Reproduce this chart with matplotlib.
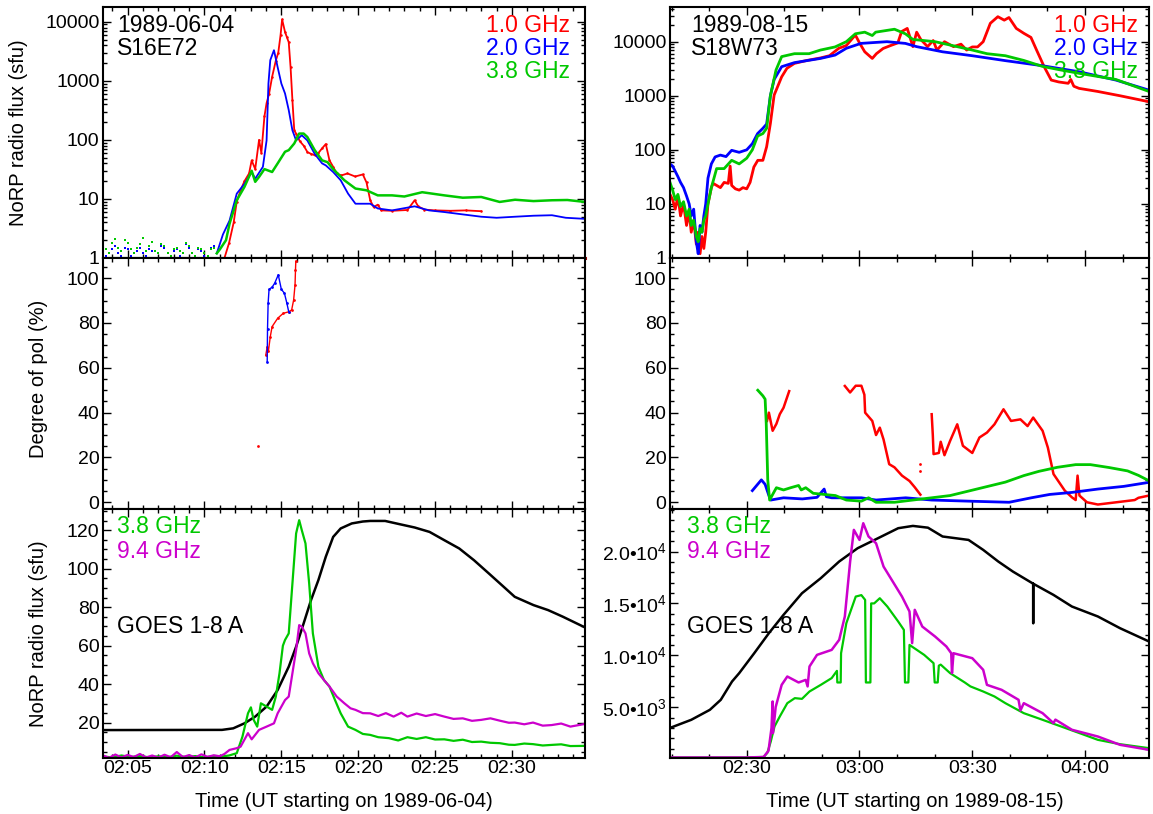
import numpy as np
import matplotlib
matplotlib.use('Agg')
import matplotlib.pyplot as plt
import matplotlib.ticker as mt

plt.rcParams['font.family'] = ['Liberation Sans', 'DejaVu Sans']
plt.rcParams['mathtext.fontset'] = 'custom'
plt.rcParams['mathtext.rm'] = 'Liberation Sans'
plt.rcParams['mathtext.it'] = 'Liberation Sans:italic'

RED = '#ff0000'
BLUE = '#0000ff'
GREEN = '#00c800'
MAGENTA = '#cc00cc'

# ---- event 1: 1989-06-04, time in minutes after 02:00 UT ----
flux_1ghz_a = [(11.3, 1.0), (11.6, 1.8), (11.9, 4), (12.1, 9), (12.35, 14), (12.6, 20), (12.9, 27),
               (13.07, 45), (13.3, 32), (13.55, 100), (13.7, 60), (13.9, 250), (14.04, 420), (14.2, 600),
               (14.4, 1170), (14.64, 2200), (14.8, 3000), (14.95, 6000), (15.05, 11000), (15.24, 6700),
               (15.36, 5500), (15.48, 4500), (15.6, 1700), (15.72, 470), (15.84, 145), (15.96, 128),
               (16.2, 95), (16.45, 80), (16.7, 62), (16.93, 58), (17.17, 55), (17.41, 60), (17.65, 72),
               (17.89, 85), (18.13, 45), (18.37, 35), (18.6, 27), (18.9, 25), (19.3, 27), (19.8, 24),
               (20.3, 26), (20.54, 19), (20.78, 9.5), (21.0, 7.3), (21.27, 8), (21.5, 6.4), (22.2, 6.3),
               (23.2, 6.5), (23.67, 9.5), (23.9, 7.5), (24.3, 6.6), (25.0, 6.4), (26.0, 6.3), (27.0, 6.4),
               (28.0, 6.2)]
# pre-flare noise dots (2.0 / 3.8 GHz)
quiet_2ghz_a = [(3.4, 1.3), (3.6, 1.1), (3.8, 1.0), (4.0, 1.4), (4.2, 1.6), (4.4, 1.2), (4.6, 1.1),
                (4.8, 1.5), (5.0, 1.4), (5.2, 1.1), (5.4, 1.0), (5.6, 1.3), (5.8, 1.5), (6.0, 1.2),
                (6.2, 1.1), (6.4, 1.4), (6.6, 1.3), (6.8, 1.0), (7.0, 1.0), (7.2, 1.6), (7.4, 1.5),
                (7.6, 1.2), (7.8, 1.1), (8.0, 1.3), (8.2, 1.4), (8.4, 1.1), (8.6, 1.0), (8.8, 1.7),
                (9.0, 1.5), (9.2, 1.2), (9.4, 1.1), (9.6, 1.4), (9.8, 1.3), (10.0, 1.1), (10.2, 1.0),
                (10.4, 1.5), (10.6, 1.6), (10.8, 1.2)]
quiet_38ghz_a = [(3.4, 1.6), (3.6, 1.4), (3.8, 1.2), (4.0, 1.8), (4.2, 2.1), (4.4, 1.5), (4.6, 1.3),
                 (4.8, 2.0), (5.0, 1.8), (5.2, 1.4), (5.4, 1.2), (5.6, 1.5), (5.8, 1.7), (6.0, 2.2),
                 (6.2, 1.3), (6.4, 1.6), (6.6, 1.9), (6.8, 1.3), (7.0, 1.2), (7.2, 1.7), (7.4, 1.6),
                 (7.6, 1.2), (7.8, 1.1), (8.0, 1.4), (8.2, 1.5), (8.4, 1.3), (8.6, 1.2), (8.8, 1.8),
                 (9.0, 1.6), (9.2, 1.2), (9.4, 1.1), (9.6, 1.5), (9.8, 1.4), (10.0, 1.2), (10.2, 1.1),
                 (10.4, 1.4), (10.6, 1.5), (10.8, 1.2)]
flux_2ghz_a = [(10.8, 1.2), (11.2, 2.5),
               (11.63, 4.3), (12.1, 12.3), (12.6, 18), (13.07, 28.6), (13.3, 22), (13.8, 35), (14.04, 98),
               (14.16, 900), (14.28, 2240), (14.52, 3300), (14.76, 1700), (15.0, 900), (15.24, 610),
               (15.48, 320), (15.72, 145), (15.96, 98), (16.33, 120), (16.69, 98), (17.17, 58),
               (17.65, 40), (17.89, 37), (18.37, 28.6), (18.86, 20.7), (19.34, 12.3), (19.82, 8.3),
               (20.78, 8.3), (21.27, 6.9), (22.2, 6.4), (23.67, 7.5), (24.6, 6.4), (25.6, 6.0),
               (26.5, 5.6), (28.0, 5.0), (29.0, 4.8), (30.2, 5.0), (31.4, 5.2), (32.6, 5.3), (33.5, 4.8),
               (34.75, 4.6)]
flux_38ghz_a = [(10.8, 1.2), (11.0, 1.4), (11.4, 2.0),
                (11.63, 3.8), (12.1, 9.5), (12.6, 16), (13.07, 30), (13.3, 19.5), (13.55, 23.6),
                (13.9, 32), (14.4, 28.6), (14.76, 40), (15.24, 63), (15.48, 67), (15.84, 87),
                (16.16, 128), (16.45, 128), (16.69, 112), (17.17, 67), (17.65, 45), (18.0, 42),
                (18.37, 32), (19.1, 20.7), (19.82, 15), (20.54, 14), (21.27, 11.5), (22.2, 11.5),
                (23.0, 11.0), (24.16, 13), (25.6, 11.5), (26.8, 10.5), (28.0, 10.8), (29.2, 8.9),
                (30.2, 9.7), (31.4, 9.2), (32.6, 9.5), (33.6, 9.6), (34.75, 8.9)]
floor_38ghz_a = (3.4, 11.4)
floor_1ghz_a = (28.0, 34.75)

pol_1ghz_a = [(13.99, 65.7), (14.08, 69.4), (14.16, 67.5), (14.28, 73.9), (14.4, 78.4), (14.76, 82.1),
              (15.12, 84.3), (15.48, 85), (15.67, 85.8), (15.8, 90.3), (15.89, 97), (15.92, 103.7),
              (15.94, 107.5)]
pol_1ghz_a_stray = [(13.48, 25)]
pol_2ghz_a = [(14.08, 62.7), (14.1, 77.2), (14.14, 88.8), (14.2, 95), (14.4, 96), (14.57, 97.8),
              (14.8, 101.5), (15.0, 95), (15.2, 93.3), (15.36, 88.8), (15.48, 85)]

goes_a = [(3.4, 16.2), (11.14, 16.3), (11.87, 17.1), (12.6, 19.7), (13.3, 23.2), (14.04, 28.4),
          (14.76, 37), (15.48, 49.1), (15.96, 59.5), (16.45, 71.6), (16.93, 83.7), (17.41, 94.1),
          (17.89, 106.2), (18.37, 116.5), (18.86, 120.9), (19.58, 123.5), (20.3, 124.5), (20.78, 124.8),
          (21.75, 124.8), (22.7, 123.1), (23.67, 121.4), (24.64, 119.1), (25.6, 114.8), (26.57, 110.5),
          (27.53, 104.4), (28.5, 97.5), (29.46, 90.6), (30.18, 85.4), (31.4, 81.1), (32.35, 78.5),
          (33.3, 75.1), (34.75, 69.5)]
lin_38ghz_a = [(3.4, 2.5), (4.0, 2.0), (4.6, 3.0), (5.2, 2.2), (5.8, 2.8), (6.4, 2.0), (7.0, 2.6),
               (7.6, 2.1), (8.2, 2.9), (8.8, 2.2), (9.4, 2.7), (10.0, 2.0), (10.6, 2.8), (11.14, 2.5),
               (11.6, 3.0), (12.1, 4.2), (12.47, 12.8), (12.83, 24.9), (13.02, 28), (13.2, 21.5),
               (13.43, 18), (13.67, 30.1), (14.04, 28.4), (14.4, 26.7), (14.64, 33.6), (14.88, 45.7),
               (15.1, 60), (15.24, 63), (15.48, 66.4), (15.72, 92.3), (15.96, 118.3), (16.16, 125.2),
               (16.33, 120), (16.57, 113.1), (16.81, 92.3), (17.05, 66.4), (17.41, 49.1), (17.77, 42.2),
               (18.13, 38.8), (18.49, 31.8), (18.86, 24.9), (19.34, 18), (19.82, 16.3), (20.3, 14.2),
               (20.78, 13.7), (21.3, 12.5), (22.0, 12.0), (22.6, 10.8), (23.2, 12.5), (23.8, 11.6),
               (24.4, 12.5), (25.0, 11.3), (25.6, 11.4), (26.2, 10.6), (26.8, 11.2), (27.4, 10.0),
               (28.0, 10.2), (28.6, 9.6), (29.2, 9.4), (29.8, 8.6), (30.18, 8.5), (30.8, 9.2),
               (31.37, 8.9), (32.0, 8.2), (32.58, 8.5), (33.2, 8.8), (33.8, 7.9), (34.75, 8.0)]
lin_94ghz_a = [(3.4, 3.0), (3.8, 1.8), (4.2, 3.5), (4.6, 2.0), (5.0, 3.3), (5.4, 2.2), (5.8, 3.8),
               (6.2, 2.0), (6.6, 3.0), (7.0, 1.9), (7.4, 3.4), (7.8, 2.1), (8.2, 4.8), (8.6, 2.2),
               (9.0, 3.2), (9.4, 2.0), (9.8, 3.6), (10.2, 2.3), (10.6, 3.1), (11.0, 2.6), (11.3, 3.8),
               (11.63, 5.9), (12.1, 6.8), (12.35, 7.6), (12.83, 14.6), (13.07, 11.4), (13.55, 16.3),
               (14.04, 18), (14.52, 19.7), (14.76, 24.9), (15.24, 31.8), (15.48, 33.6), (15.72, 45.7),
               (15.96, 57.8), (16.16, 70.7), (16.33, 69.9), (16.57, 66.4), (16.81, 56), (17.05, 50.9),
               (17.41, 45.7), (17.77, 42.2), (18.13, 38.8), (18.6, 33.6), (19.1, 30.1), (19.5, 27.5),
               (19.82, 26.7), (20.3, 25.0), (20.78, 24.9), (21.3, 23.5), (21.8, 25.0), (22.3, 23.2),
               (22.8, 25.2), (23.2, 23.2), (23.8, 24.8), (24.4, 23.5), (25.0, 24.5), (25.6, 23.2),
               (26.2, 22.0), (26.8, 22.3), (27.4, 21.0), (28.0, 21.5), (28.6, 22.3), (29.2, 21.1),
               (29.8, 20.0), (30.18, 20.1), (30.8, 19.2), (31.37, 20.1), (32.0, 18.5), (32.58, 18.8),
               (33.2, 19.6), (33.8, 18.0), (34.75, 19.4)]

# ---- event 2: 1989-08-15, time in minutes after 02:00 UT ----
flux_1ghz_b = [(9.6, 15), (10.3, 12), (11.0, 8), (11.7, 14), (12.4, 6), (13.2, 10), (14.0, 4), (14.7, 7),
               (15.25, 3), (15.9, 5), (16.6, 1.8), (17.1, 3), (17.6, 1.2), (18.1, 2.5), (18.6, 1.5),
               (19.1, 3), (19.7, 10), (20.6, 20), (21.05, 24), (22.0, 22), (23.0, 20), (24.0, 25),
               (25.1, 24), (25.6, 50), (26.0, 22), (27.0, 19), (28.0, 18), (29.0, 20), (30.0, 19),
               (30.9, 25), (31.9, 48), (32.95, 64), (34.3, 64), (35.3, 114), (36.3, 308), (37.3, 1030),
               (39.3, 2240), (40.7, 3220), (42.7, 3970), (46.0, 4500), (49.6, 5000), (52.0, 5500),
               (54.5, 7550), (56.5, 8500), (58.9, 13300), (60.0, 9500), (61.4, 6500), (63.4, 4900),
               (64.5, 6000), (66.3, 7500), (68.3, 8500), (70.2, 9500), (71.2, 15400), (72.7, 17600),
               (74.2, 8100), (75.2, 15000), (76.3, 11000), (78.1, 8100), (79.6, 10500), (80.6, 7000),
               (82.6, 10000), (85.0, 8100), (87.0, 9000), (88.5, 7000), (90.0, 8000), (91.4, 8000),
               (92.9, 10000), (94.8, 21900), (96.8, 29000), (98.5, 25000), (99.75, 28000),
               (101.7, 17600), (103.7, 14300), (105.6, 12000), (107.1, 7000), (109.1, 3460),
               (111.0, 1950), (113.0, 1800), (115.5, 1700), (116.2, 2000), (117.0, 1500),
               (118.4, 1370), (123.4, 1200), (129.3, 1000), (137.0, 775)]
flux_2ghz_b = [(9.6, 55), (10.3, 50), (11.0, 40), (11.7, 32), (12.4, 25), (13.2, 20), (14.0, 14),
               (14.7, 10), (15.25, 6), (15.9, 8), (16.6, 2), (17.1, 1.2), (17.6, 4), (18.1, 3), (18.6, 6),
               (19.1, 10), (19.7, 30), (20.6, 55), (21.6, 74), (23.0, 80), (24.5, 75), (26.0, 98),
               (28.0, 90), (30.0, 100), (31.5, 130), (32.9, 200), (34.3, 250), (35.3, 300), (36.3, 1000),
               (37.3, 2000), (39.3, 3450), (42.7, 4100), (49.6, 4900), (53.5, 5650), (56.5, 7550),
               (60.4, 9300), (67.3, 10000), (72.2, 9300), (75.2, 8100), (82.1, 6500), (90.0, 5500),
               (98.8, 4460), (108.6, 3600), (118.4, 2780), (128.2, 1950), (137.0, 1270)]
flux_38ghz_b = [(9.6, 25), (10.3, 18), (11.0, 12), (11.7, 15), (12.4, 9), (13.2, 11), (14.0, 6),
                (14.7, 8), (15.25, 4), (15.9, 5), (16.6, 2.5), (17.1, 2), (17.6, 3.5), (18.1, 3),
                (18.6, 5), (19.1, 6), (19.7, 10), (20.6, 20), (22.0, 45), (24.0, 45), (26.0, 64),
                (28.0, 55), (30.0, 70), (31.5, 100), (32.9, 180), (34.3, 200), (35.3, 250), (36.3, 1000),
                (37.8, 3000), (39.3, 5300), (42.7, 6000), (46.6, 6000), (49.6, 7000), (53.5, 8000),
                (56.5, 10000), (58.9, 14000), (61.4, 15000), (63.4, 13000), (64.3, 15000),
                (69.3, 17000), (72.2, 14000), (74.2, 11000), (80.1, 10000), (84.0, 8700), (90.0, 7000),
                (93.9, 6000), (98.8, 5500), (103.7, 4500), (108.6, 3500), (113.5, 3000), (118.4, 2600),
                (128.2, 2000), (137.0, 1200)]

pol_38ghz_b = [(32.95, 50), (34.3, 47.5), (34.9, 46), (35.2, 35), (35.6, 10), (36.1, 1), (37.4, 5),
               (37.9, 6.5), (39.8, 5.5), (41.7, 6.5), (43.8, 7.5), (44.5, 5.5), (45.7, 6.5), (47.7, 4.0),
               (50.6, 3.5), (53.6, 3.0), (56.5, 1.0), (60.5, 0.5), (62.4, 2.0), (64.4, 0), (69.3, 0),
               (74.2, 1.0), (79.2, 2.0), (84.1, 3.0), (89.0, 5.0), (93.9, 7.0), (98.8, 9.0),
               (103.7, 11.9), (107.7, 13.8), (112.6, 15.6), (117.5, 16.8), (121.4, 16.8), (126.4, 15.5),
               (131.3, 14.0), (134.2, 12.0), (137.0, 9.6)]
pol_2ghz_b = [(31.5, 5.2), (32.95, 8.1), (33.9, 10), (34.9, 8), (35.9, 3), (36.4, 1), (39.8, 2),
              (44.8, 1.5), (48.7, 2.2), (50.6, 5.9), (51.2, 2.5), (52.6, 2), (60.5, 2), (64.4, 1),
              (72.3, 2), (79.2, 1), (89.0, 0.5), (99.8, 0), (105.7, 2), (110.6, 3.5), (116.5, 4.4),
              (123.4, 5.9), (130.3, 7.1), (137.0, 8.9)]
pol_1ghz_b = [(35.4, 36.3), (35.9, 40), (36.9, 31.9), (37.9, 35), (38.8, 39.3), (39.8, 42.2), (41.3, 49.6),
              (48.0, np.nan),
              (56.1, 51.9), (57.5, 49), (59.0, 52), (60.5, 52), (61.3, 48), (61.5, 40), (63.4, 36.3),
              (64.4, 30), (65.4, 33.3), (66.4, 28), (67.9, 17), (69.3, 15.6), (71.3, 11.9), (73.3, 9.5),
              (74.7, 6.7), (76.2, 3.4),
              (78.0, np.nan),
              (79.2, 39.3), (79.5, 30), (79.7, 21.5), (81.1, 22), (81.6, 27), (82.6, 21), (84.1, 27.4),
              (86.0, 34.8), (87.5, 25.2), (90.0, 22), (91.9, 28.9), (93.9, 31.1), (95.9, 34.8),
              (98.3, 41.5), (100.3, 36.3), (102.8, 37), (104.7, 34), (106.2, 37.8), (108.7, 31.9),
              (110.1, 24.4), (111.6, 12.6), (114.6, 5.2), (116.5, 2.2), (117.5, 1), (118.0, 11.9),
              (118.5, 3), (120.5, 0), (123.4, -1), (128.3, 0), (133.2, 1), (134.2, 2), (137.0, 3)]
pol_1ghz_b_stray = [(76.2, 17), (76.2, 14)]

goes_b = [(9.6, 3000), (15.25, 3780), (20.2, 4743), (23.1, 5707), (26.1, 7473), (28.0, 8276),
          (32.0, 10200), (35.9, 12130), (39.8, 13900), (44.7, 15980), (49.7, 17430), (54.6, 19040),
          (59.5, 20320), (64.4, 21190), (70.3, 22250), (74.2, 22470), (78.2, 22300), (82.1, 21450),
          (89.0, 21120), (92.9, 20160), (96.9, 19040), (100.8, 18070), (106.2, 16900), (106.2, 13100),
          (106.2, 16900), (111.6, 15820), (116.5, 14700), (123.4, 13740), (129.3, 12610), (137.0, 11330)]
lin_38ghz_b = [(9.6, 150), (20.0, 150), (30.0, 150), (34.5, 200), (35.5, 600), (36.4, 1690), (37.4, 3140),
               (38.8, 4100), (40.8, 5385), (42.8, 5870), (44.7, 5800), (46.7, 6510), (49.7, 7150),
               (52.6, 7800), (54.0, 8500), (54.1, 7380), (55.0, 7380), (55.1, 10200), (56.5, 13090),
               (59.0, 15660), (60.5, 15800), (61.5, 15340), (61.7, 7380), (62.9, 7380), (63.1, 15000),
               (63.9, 15000), (65.4, 15500), (67.4, 14700), (70.3, 13250), (71.8, 12450), (72.1, 7380),
               (73.0, 7380), (73.3, 11000), (77.2, 10040), (79.7, 9240), (80.0, 7380), (80.8, 7380),
               (81.1, 9000), (81.6, 9100), (84.1, 8280), (88.0, 7380), (89.5, 7000), (92.9, 6510),
               (95.9, 6030), (98.8, 5385), (103.7, 4420), (108.7, 3780), (113.6, 3140), (118.5, 2500),
               (123.4, 1850), (129.3, 1430), (137.0, 1050)]
lin_94ghz_b = [(9.6, 150), (20.0, 150), (30.0, 150), (34.5, 200), (35.8, 800), (36.6, 3000), (36.9, 5550),
               (37.0, 2500), (37.7, 5000), (39.3, 7150), (40.8, 7955), (43.8, 7380), (45.7, 7630),
               (46.2, 7000), (46.7, 8920), (48.7, 10040), (52.6, 10520), (54.6, 11490), (56.1, 13740),
               (57.5, 19000), (58.5, 22090), (60.0, 21120), (61.0, 22730), (62.4, 21450), (64.4, 20800),
               (66.4, 18550), (68.3, 17430), (71.3, 15660), (73.3, 14220), (74.0, 11170), (74.7, 14380),
               (76.7, 12770), (80.1, 11810), (83.1, 10850), (84.4, 10200), (84.6, 8280), (85.0, 10200),
               (90.0, 9720), (92.9, 8600), (93.9, 7150), (97.8, 6670), (102.3, 5710), (102.8, 4680),
               (103.7, 5385), (108.7, 4420), (111.6, 3460), (112.1, 3800), (116.5, 2820), (123.4, 2170),
               (129.3, 1370), (137.0, 890)]


def xy(pairs):
    a = np.array(pairs, dtype=float)
    return a[:, 0], a[:, 1]


def hhmm(v, pos):
    v = int(round(v))
    return '%02d:%02d' % (2 + v // 60, v % 60)


def sci(v, pos):
    if v <= 0:
        return ''
    e = int(np.floor(np.log10(v)))
    return r'%.1f•10$^{%d}$' % (v / 10 ** e, e)


W, H = 1153.0, 814.0
fig = plt.figure(figsize=(11.53, 8.14), dpi=100)


def panel(x0, x1, y0, y1):
    ax = fig.add_axes([x0 / W, 1 - y1 / H, (x1 - x0) / W, (y1 - y0) / H])
    for s in ax.spines.values():
        s.set_linewidth(1.5)
    ax.tick_params(which='both', direction='in', top=True, right=True, width=1.0, labelsize=14, pad=2.5)
    ax.tick_params(which='major', length=6)
    ax.tick_params(which='minor', length=3.2)
    ax.tick_params(axis='x', pad=1.5)
    return ax


cols = [(103, 585), (670, 1149)]
rows = [(7, 258), (258, 509), (509, 758)]
axs = [[panel(c[0], c[1], r[0], r[1]) for c in cols] for r in rows]

for r in range(3):
    a = axs[r][0]
    a.set_xlim(3.4, 34.75)
    a.xaxis.set_major_locator(mt.MultipleLocator(5))
    a.xaxis.set_minor_locator(mt.MultipleLocator(1))
    b = axs[r][1]
    b.set_xlim(9.6, 137.0)
    b.xaxis.set_major_locator(mt.MultipleLocator(30))
    b.xaxis.set_minor_locator(mt.MultipleLocator(10))
    for ax in (a, b):
        if r < 2:
            ax.tick_params(axis='x', labelbottom=False)
        else:
            ax.xaxis.set_major_formatter(mt.FuncFormatter(hhmm))

# top row: log flux
ax = axs[0][0]
ax.set_yscale('log')
ax.set_ylim(1, 17800)
t, v = xy(flux_1ghz_a)
ax.plot(t, v, color=RED, lw=1.3, marker='o', ms=1.8, mew=0)
t, v = xy(quiet_2ghz_a)
ax.plot(t, v, color=BLUE, ls='none', marker='s', ms=2.0, mew=0)
t, v = xy(quiet_38ghz_a)
ax.plot(t, v, color=GREEN, ls='none', marker='s', ms=2.0, mew=0)
t, v = xy(flux_2ghz_a)
ax.plot(t, v, color=BLUE, lw=1.3)
t, v = xy(flux_38ghz_a)
ax.plot(t, v, color=GREEN, lw=1.8)
ax.plot(floor_38ghz_a, [1, 1], color='#007000', lw=2.2, clip_on=False, zorder=5)
ax.plot(floor_1ghz_a, [1, 1], color='#990000', lw=2.2, clip_on=False, zorder=5)

ax = axs[0][1]
ax.set_yscale('log')
ax.set_ylim(1, 43800)
t, v = xy(flux_1ghz_b)
ax.plot(t, v, color=RED, lw=2.0)
t, v = xy(flux_2ghz_b)
ax.plot(t, v, color=BLUE, lw=2.0)
t, v = xy(flux_38ghz_b)
ax.plot(t, v, color=GREEN, lw=2.0)

for ax in axs[0]:
    ax.yaxis.set_major_locator(mt.LogLocator(base=10, numticks=10))
    ax.yaxis.set_minor_locator(mt.LogLocator(base=10, subs=np.arange(2, 10), numticks=20))
    ax.yaxis.set_major_formatter(mt.FuncFormatter(lambda v, p: '%d' % round(v)))
    ax.yaxis.set_minor_formatter(mt.NullFormatter())

# middle row: degree of polarization
ax = axs[1][0]
t, v = xy(pol_1ghz_a)
ax.plot(t, v, color=RED, lw=1.0, marker='o', ms=2, mew=0)
t, v = xy(pol_1ghz_a_stray)
ax.plot(t, v, color=RED, ls='none', marker='o', ms=2, mew=0)
t, v = xy(pol_2ghz_a)
ax.plot(t, v, color=BLUE, lw=1.0, marker='o', ms=2, mew=0)

ax = axs[1][1]
t, v = xy(pol_1ghz_b)
ax.plot(t, v, color=RED, lw=1.8)
t, v = xy(pol_1ghz_b_stray)
ax.plot(t, v, color=RED, ls='none', marker='o', ms=2, mew=0)
t, v = xy(pol_2ghz_b)
ax.plot(t, v, color=BLUE, lw=2.0)
t, v = xy(pol_38ghz_b)
ax.plot(t, v, color=GREEN, lw=2.0)

for ax in axs[1]:
    ax.set_ylim(-3, 109)
    ax.yaxis.set_major_locator(mt.MultipleLocator(20))
    ax.yaxis.set_minor_locator(mt.MultipleLocator(5))

# bottom row: linear flux + GOES
ax = axs[2][0]
t, v = xy(goes_a)
ax.plot(t, v, color='black', lw=1.8)
t, v = xy(lin_38ghz_a)
ax.plot(t, v, color=GREEN, lw=1.6)
t, v = xy(lin_94ghz_a)
ax.plot(t, v, color=MAGENTA, lw=1.6)
ax.set_ylim(1.7, 131)
ax.yaxis.set_major_locator(mt.MultipleLocator(20))
ax.yaxis.set_minor_locator(mt.MultipleLocator(5))

ax = axs[2][1]
t, v = xy(goes_b)
ax.plot(t, v, color='black', lw=1.8)
t, v = xy(lin_38ghz_b)
ax.plot(t, v, color=GREEN, lw=1.6)
t, v = xy(lin_94ghz_b)
ax.plot(t, v, color=MAGENTA, lw=1.8)
ax.set_ylim(100, 24100)
ax.yaxis.set_major_locator(mt.MultipleLocator(5000))
ax.yaxis.set_minor_locator(mt.MultipleLocator(1000))
ax.yaxis.set_major_formatter(mt.FuncFormatter(sci))

# annotations
fs = 16.5
axs[0][0].text(0.029, 0.9016, '1989-06-04', transform=axs[0][0].transAxes, fontsize=fs, va='baseline')
axs[0][0].text(0.029, 0.8088, 'S16E72', transform=axs[0][0].transAxes, fontsize=fs, va='baseline')
axs[0][1].text(0.044, 0.8990, '1989-08-15', transform=axs[0][1].transAxes, fontsize=fs, va='baseline')
axs[0][1].text(0.044, 0.8088, 'S18W73', transform=axs[0][1].transAxes, fontsize=fs, va='baseline')
for ax, xr in ((axs[0][0], 0.969), (axs[0][1], 0.977)):
    for yy, lab, c in ((0.9016, '1.0 GHz', RED), (0.8088, '2.0 GHz', BLUE), (0.716, '3.8 GHz', GREEN)):
        ax.text(xr, yy, lab, transform=ax.transAxes, fontsize=fs, color=c, ha='right', va='baseline')
for ax, xl in ((axs[2][0], 0.03), (axs[2][1], 0.036)):
    ax.text(xl, 0.9024, '3.8 GHz', transform=ax.transAxes, fontsize=fs, color=GREEN, va='baseline')
    ax.text(xl, 0.802, '9.4 GHz', transform=ax.transAxes, fontsize=fs, color=MAGENTA, va='baseline')
    ax.text(xl, 0.5008, 'GOES 1-8 A', transform=ax.transAxes, fontsize=fs, color='black', va='baseline')

axs[0][0].set_ylabel('NoRP radio flux (sfu)', fontsize=14.5)
axs[0][0].yaxis.set_label_coords(-0.156, 0.5)
axs[1][0].set_ylabel('Degree of pol (%)', fontsize=14.5)
axs[1][0].yaxis.set_label_coords(-0.114, 0.52)
axs[2][0].set_ylabel('NoRP radio flux (sfu)', fontsize=14.5)
axs[2][0].yaxis.set_label_coords(-0.114, 0.5)

fig.text(344 / W, 1 - 807 / H, 'Time (UT starting on 1989-06-04)', fontsize=14.5, ha='center', va='baseline')
fig.text(915 / W, 1 - 807 / H, 'Time (UT starting on 1989-08-15)', fontsize=14.5, ha='center', va='baseline')

fig.savefig('out.png', dpi=100)
